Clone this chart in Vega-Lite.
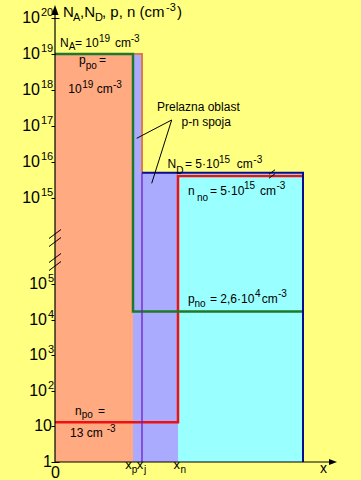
{
  "$schema": "https://vega.github.io/schema/vega-lite/v6.json",
  "autosize": "none",
  "width": 306,
  "height": 462,
  "padding": {"left": 55, "top": 0, "right": 0, "bottom": 18},
  "background": "#FFFF80",
  "config": {
    "view": {"stroke": null},
    "text": {"font": "Liberation Sans", "color": "black", "baseline": "alphabetic", "align": "left"},
    "axis": {"labelFont": "Liberation Sans", "labelColor": "black", "grid": false, "domain": false}
  },
  "datasets": {
    "rects": [
      {"r": "p", "x": 0, "x2": 78, "y": 1, "y2": 1e19},
      {"r": "dep", "x": 78, "x2": 87, "y": 1, "y2": 1e19},
      {"r": "dep", "x": 87, "x2": 123, "y": 1, "y2": 5e15},
      {"r": "n", "x": 123, "x2": 248, "y": 1, "y2": 5e15}
    ],
    "lines": [
      {"s": "NA", "x": 0, "y": 1e19},
      {"s": "NA", "x": 87, "y": 1e19},
      {"s": "NA", "x": 87, "y": 5e15},
      {"s": "ND", "x": 87, "y": 5e15},
      {"s": "ND", "x": 248, "y": 5e15},
      {"s": "ND", "x": 248, "y": 1},
      {"s": "xj", "x": 87, "y": 5e15},
      {"s": "xj", "x": 87, "y": 1},
      {"s": "p", "x": 0, "y": 1e19},
      {"s": "p", "x": 78, "y": 1e19},
      {"s": "p", "x": 78, "y": 17000},
      {"s": "p", "x": 248, "y": 17000},
      {"s": "n", "x": 0, "y": 13},
      {"s": "n", "x": 123, "y": 13},
      {"s": "n", "x": 123, "y": 4.1e15},
      {"s": "n", "x": 248, "y": 4.1e15}
    ],
    "axl": [
      {"x": 0, "y": 1, "x2": 0, "y2": 1.21e20},
      {"x": 0, "y": 1, "x2": 278, "y2": 1}
    ],
    "arrowY": [{"x": 0, "y": 1.67e20}],
    "arrowX": [{"x": 278, "y": 1}],
    "breaksBig": [{"x": 0, "y": 2.23e10}, {"x": 0, "y": 3.61e7}],
    "breakSmall": [{"x": 217, "y": 4.64e15}],
    "leaders": [
      {"x": 116.7, "y": 1.47e17, "x2": 81.7, "y2": 4.55e16},
      {"x": 116.7, "y": 1.47e17, "x2": 96.7, "y2": 2.56e15}
    ],
    "yLab2": [
      {"x": 0, "y": 1e15, "t": "10", "e": "15"},
      {"x": 0, "y": 1e16, "t": "10", "e": "16"},
      {"x": 0, "y": 1e17, "t": "10", "e": "17"},
      {"x": 0, "y": 1e18, "t": "10", "e": "18"},
      {"x": 0, "y": 1e19, "t": "10", "e": "19"},
      {"x": 0, "y": 1e20, "t": "10", "e": "20"}
    ],
    "yLab1": [
      {"x": 0, "y": 100, "t": "10", "e": "2"},
      {"x": 0, "y": 1000, "t": "10", "e": "3"},
      {"x": 0, "y": 10000, "t": "10", "e": "4"},
      {"x": 0, "y": 100000, "t": "10", "e": "5"}
    ],
    "yLab0": [
      {"x": 0, "y": 1, "t": "1"},
      {"x": 0, "y": 10, "t": "10"}
    ],
    "title": [
      {"x": 8, "y": 1.07e20, "t": "N"},
      {"x": 25, "y": 1.07e20, "t": ",N"},
      {"x": 47, "y": 1.07e20, "t": ", p, n (cm"},
      {"x": 122, "y": 1.07e20, "t": ")"}
    ],
    "titleSub": [
      {"x": 18, "y": 8.26e19, "t": "A"},
      {"x": 40, "y": 8.26e19, "t": "D"}
    ],
    "titleSup": [
      {"x": 111, "y": 1.56e20, "t": "-3"}
    ],
    "ann": [
      {"x": 5, "y": 1.565e19, "t": "N"},
      {"x": 20, "y": 1.565e19, "t": "= 10"},
      {"x": 60, "y": 1.565e19, "t": "cm"},
      {"x": 24, "y": 5.27e18, "t": "p"},
      {"x": 44, "y": 5.27e18, "t": "="},
      {"x": 13.3, "y": 8.25e17, "t": "10"},
      {"x": 41.7, "y": 8.25e17, "t": "cm"},
      {"x": 102, "y": 2.53e17, "t": "Prelazna oblast"},
      {"x": 126.5, "y": 1.03e17, "t": "p-n spoja"},
      {"x": 112.5, "y": 7.03e15, "t": "N"},
      {"x": 130, "y": 7.03e15, "t": "= 5·10"},
      {"x": 181.7, "y": 7.03e15, "t": "cm"},
      {"x": 133, "y": 1.21e15, "t": "n"},
      {"x": 155, "y": 1.21e15, "t": "= 5·10"},
      {"x": 205, "y": 1.21e15, "t": "cm"},
      {"x": 133, "y": 30200, "t": "p"},
      {"x": 155, "y": 30200, "t": "= 2,6·10"},
      {"x": 206.7, "y": 30200, "t": "cm"},
      {"x": 20, "y": 20.9, "t": "n"},
      {"x": 43, "y": 20.9, "t": "="},
      {"x": 15, "y": 5.04, "t": "13 cm"}
    ],
    "annSub": [
      {"x": 13.7, "y": 1.292e19, "t": "A"},
      {"x": 30.7, "y": 3.95e18, "t": "po"},
      {"x": 121.2, "y": 4.64e15, "t": "D"},
      {"x": 142, "y": 5.12e14, "t": "no"},
      {"x": 139.5, "y": 21900, "t": "no"},
      {"x": 26.7, "y": 16.7, "t": "po"}
    ],
    "annSup": [
      {"x": 44, "y": 2.15e19, "t": "19"},
      {"x": 75.7, "y": 2.15e19, "t": "-3"},
      {"x": 27.3, "y": 1.14e18, "t": "19"},
      {"x": 58, "y": 1.14e18, "t": "-3"},
      {"x": 164, "y": 9.38e15, "t": "15"},
      {"x": 198.3, "y": 9.38e15, "t": "-3"},
      {"x": 189, "y": 1.78e15, "t": "15"},
      {"x": 221.5, "y": 1.78e15, "t": "-3"},
      {"x": 200, "y": 43100, "t": "4"},
      {"x": 223, "y": 43100, "t": "-3"},
      {"x": 51.7, "y": 6.96, "t": "-3"}
    ],
    "xlab": [
      {"x": 76.7, "y": 0.623, "t": "x"},
      {"x": 88.3, "y": 0.623, "t": "x"},
      {"x": 125, "y": 0.623, "t": "x"}
    ],
    "xlabSub": [
      {"x": 76.7, "y": 0.507, "t": "p"},
      {"x": 88.9, "y": 0.507, "t": "j"},
      {"x": 125.5, "y": 0.507, "t": "n"}
    ],
    "axname": [{"x": 265, "y": 0.491, "t": "x"}]
  },
  "encoding": {
    "x": {
      "field": "x", "type": "quantitative",
      "scale": {"domain": [0, 306], "nice": false, "zero": false},
      "axis": {"title": null, "values": [0], "ticks": false, "labelFontSize": 16, "labelPadding": 2, "labelAlign": "center", "labelBaseline": "top", "labelFlush": false}
    },
    "y": {
      "field": "y", "type": "quantitative",
      "scale": {"type": "log", "domain": [1, 100000, 1e15, 1e20], "range": [462, 284, 198, 18], "nice": false},
      "axis": {
        "title": null,
        "values": [1, 10, 100, 1000, 10000, 100000, 1e15, 1e16, 1e17, 1e18, 1e19, 1e20],
        "offset": -4, "tickSize": 8, "tickColor": "black", "tickWidth": 1,
        "labels": false
      }
    }
  },
  "layer": [
    {
      "data": {"name": "rects"},
      "mark": {"type": "rect"},
      "encoding": {
        "x2": {"field": "x2"},
        "y2": {"field": "y2"},
        "color": {"field": "r", "type": "nominal", "scale": {"domain": ["p", "dep", "n"], "range": ["#FFAA80", "#AAAAFF", "#99FFFF"]}, "legend": null}
      }
    },
    {
      "data": {"name": "lines"},
      "transform": [{"filter": "datum.s == 'NA'"}],
      "mark": {"type": "line", "color": "#E07A4A", "strokeWidth": 2},
      "encoding": {"order": {"value": null}}
    },
    {
      "data": {"name": "lines"},
      "transform": [{"filter": "datum.s == 'n'"}],
      "mark": {"type": "line", "color": "#EE1111", "strokeWidth": 2.5},
      "encoding": {"order": {"value": null}}
    },
    {
      "data": {"name": "lines"},
      "transform": [{"filter": "datum.s == 'p'"}],
      "mark": {"type": "line", "color": "#1E7A2A", "strokeWidth": 2.5},
      "encoding": {"order": {"value": null}}
    },
    {
      "data": {"name": "lines"},
      "transform": [{"filter": "datum.s == 'ND'"}],
      "mark": {"type": "line", "color": "#0A0A90", "strokeWidth": 2},
      "encoding": {"order": {"value": null}}
    },
    {
      "data": {"name": "lines"},
      "transform": [{"filter": "datum.s == 'xj'"}],
      "mark": {"type": "line", "color": "#7020C0", "strokeWidth": 1.3},
      "encoding": {"order": {"value": null}}
    },
    {
      "data": {"name": "leaders"},
      "mark": {"type": "rule", "color": "black", "strokeWidth": 1},
      "encoding": {"x2": {"field": "x2"}, "y2": {"field": "y2"}}
    },
    {
      "data": {"name": "axl"},
      "mark": {"type": "rule", "color": "black", "strokeWidth": 1.2},
      "encoding": {"x2": {"field": "x2"}, "y2": {"field": "y2"}}
    },
    {
      "data": {"name": "arrowY"},
      "mark": {"type": "point", "shape": "M-0.7,1L0.7,1L0,-1Z", "size": 100, "filled": true, "color": "black", "opacity": 1, "strokeWidth": 0}
    },
    {
      "data": {"name": "arrowX"},
      "mark": {"type": "point", "shape": "M-1,-0.75L1,0L-1,0.75Z", "size": 64, "filled": true, "color": "black", "opacity": 1, "strokeWidth": 0}
    },
    {
      "data": {"name": "breaksBig"},
      "mark": {"type": "point", "shape": "M-1,0.08L1,-1.42M-1,1.42L1,-0.08", "size": 144, "filled": false, "stroke": "black", "strokeWidth": 1, "opacity": 1}
    },
    {
      "data": {"name": "breakSmall"},
      "mark": {"type": "point", "shape": "M-1,0.08L1,-1.42M-1,1.42L1,-0.08", "size": 36, "filled": false, "stroke": "black", "strokeWidth": 1, "opacity": 1}
    },
    {
      "data": {"name": "yLab2"},
      "mark": {"type": "text", "fontSize": 16, "align": "right", "baseline": "middle", "dx": -15},
      "encoding": {"text": {"field": "t"}}
    },
    {
      "data": {"name": "yLab2"},
      "mark": {"type": "text", "fontSize": 11, "align": "left", "baseline": "middle", "dx": -14, "dy": -5},
      "encoding": {"text": {"field": "e"}}
    },
    {
      "data": {"name": "yLab1"},
      "mark": {"type": "text", "fontSize": 16, "align": "right", "baseline": "middle", "dx": -8},
      "encoding": {"text": {"field": "t"}}
    },
    {
      "data": {"name": "yLab1"},
      "mark": {"type": "text", "fontSize": 11, "align": "left", "baseline": "middle", "dx": -7, "dy": -5},
      "encoding": {"text": {"field": "e"}}
    },
    {
      "data": {"name": "yLab0"},
      "mark": {"type": "text", "fontSize": 16, "align": "right", "baseline": "middle", "dx": -3},
      "encoding": {"text": {"field": "t"}}
    },
    {
      "data": {"name": "title"},
      "mark": {"type": "text", "fontSize": 15},
      "encoding": {"text": {"field": "t"}}
    },
    {
      "data": {"name": "titleSub"},
      "mark": {"type": "text", "fontSize": 11},
      "encoding": {"text": {"field": "t"}}
    },
    {
      "data": {"name": "titleSup"},
      "mark": {"type": "text", "fontSize": 11},
      "encoding": {"text": {"field": "t"}}
    },
    {
      "data": {"name": "ann"},
      "mark": {"type": "text", "fontSize": 12},
      "encoding": {"text": {"field": "t"}}
    },
    {
      "data": {"name": "annSub"},
      "mark": {"type": "text", "fontSize": 10},
      "encoding": {"text": {"field": "t"}}
    },
    {
      "data": {"name": "annSup"},
      "mark": {"type": "text", "fontSize": 10},
      "encoding": {"text": {"field": "t"}}
    },
    {
      "data": {"name": "xlab"},
      "mark": {"type": "text", "fontSize": 13, "align": "right"},
      "encoding": {"text": {"field": "t"}}
    },
    {
      "data": {"name": "xlabSub"},
      "mark": {"type": "text", "fontSize": 10},
      "encoding": {"text": {"field": "t"}}
    },
    {
      "data": {"name": "axname"},
      "mark": {"type": "text", "fontSize": 14},
      "encoding": {"text": {"field": "t"}}
    }
  ]
}
